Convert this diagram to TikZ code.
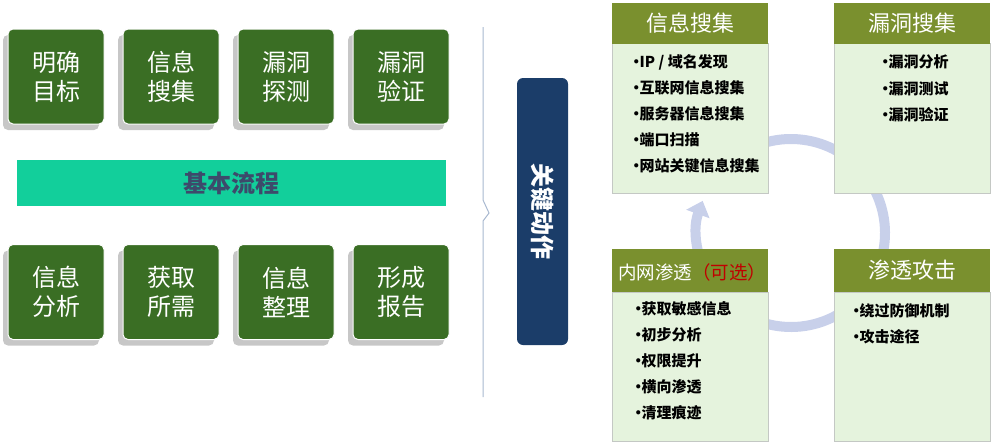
\documentclass[tikz,border=0pt]{standalone}
\usepackage{fontspec}
\setmainfont{Noto Sans CJK SC}
\usetikzlibrary{arrows.meta,shadows}
\definecolor{boxgreen}{HTML}{3A6E24}
\definecolor{bargreen}{HTML}{12CF9B}
\definecolor{bartext}{HTML}{3D4A6B}
\definecolor{keyblue}{HTML}{1B3D69}
\definecolor{headolive}{HTML}{7A902E}
\definecolor{bodygreen}{HTML}{E5F3DD}
\definecolor{bodyline}{HTML}{C4C8C4}
\definecolor{ringblue}{HTML}{C8D0EA}
\definecolor{bracketline}{HTML}{A8B8D0}
\definecolor{optred}{HTML}{C00000}
\newcommand{\bul}{\makebox[6.5pt][c]{•}}
\tikzset{
  gbox/.style={fill=boxgreen, draw=white, line width=1pt, rounded corners=5pt,
    minimum width=96pt, minimum height=95pt, text=white, align=center,
    font=\fontsize{24}{29}\selectfont,
    drop shadow={shadow xshift=-5pt, shadow yshift=-6pt, fill=black!22, opacity=1}},
  head/.style={fill=headolive, draw=none, minimum width=156pt, minimum height=41pt,
    inner sep=0pt, text=white, font=\fontsize{22}{26}\selectfont},
  body/.style={fill=bodygreen, draw=bodyline, line width=0.8pt, minimum width=156pt, inner sep=0pt},
  item/.style={anchor=west, inner sep=0pt, font=\fontsize{15}{18}\selectfont\bfseries, text=black}
}
\begin{document}
\begin{tikzpicture}[x=1pt,y=-1pt]
\useasboundingbox (0,0) rectangle (1000,442);
% left boxes
\node[gbox] (b1) at (56,76.5) {明确\\目标};
\node[gbox] (b2) at (171,76.5) {信息\\搜集};
\node[gbox] (b3) at (286,76.5) {漏洞\\探测};
\node[gbox] (b4) at (401,76.5) {漏洞\\验证};
\node[gbox] (b5) at (56,292) {信息\\分析};
\node[gbox] (b6) at (171,292) {获取\\所需};
\node[gbox] (b7) at (286,292) {信息\\整理};
\node[gbox] (b8) at (401,292) {形成\\报告};
% bar
\node[fill=bargreen, minimum width=429pt, minimum height=46pt, inner sep=0pt,
  text=bartext, font=\fontsize{24}{28}\selectfont\bfseries] (bar) at (231.5,183) {基本流程};
% bracket
\coordinate (brtop) at (483,27);
\coordinate (brbot) at (483,397);
\coordinate (brtip) at (489,213);
\draw[bracketline, line width=1pt] (brtop) -- (483,200) -- (brtip) -- (483,221) -- (brbot);
% key box
\node[fill=keyblue, rounded corners=6pt, minimum width=51pt, minimum height=267pt, inner sep=0pt] (key) at (542.5,211.5) {};
\node[rotate=-90, text=white, font=\fontsize{24}{26}\selectfont\bfseries] (keytext) at (key.center) {关键动作};
% ring
\coordinate (rc) at (791,233);
\draw[ringblue, line width=10pt, -{Triangle[width=24pt,length=14pt]}]
  (rc) ++(130:94pt) arc[start angle=130, end angle=-200, radius=94pt];
% panel 1
\node[body, minimum height=150pt] (p1b) at (690,118) {};
\node[head] (p1h) at (690,23) {信息搜集};
\node[item] (p1i1) at (633,62) {\bul IP / 域名发现};
\node[item] (p1i2) at (633,88) {\bul 互联网信息搜集};
\node[item] (p1i3) at (633,114) {\bul 服务器信息搜集};
\node[item] (p1i4) at (633,140) {\bul 端口扫描};
\node[item] (p1i5) at (633,166) {\bul 网站关键信息搜集};
% panel 2
\node[body, minimum height=150pt] (p2b) at (912,118) {};
\node[head] (p2h) at (912,23) {漏洞搜集};
\node[item] (p2i1) at (882,62) {\bul 漏洞分析};
\node[item] (p2i2) at (882,89) {\bul 漏洞测试};
\node[item] (p2i3) at (882,115) {\bul 漏洞验证};
% panel 3
\node[body, minimum height=149pt] (p3b) at (690,366.5) {};
\node[head, minimum height=43pt] (p3h) at (690,270.5) {};
\node[anchor=west, inner sep=0pt, text=white, font=\fontsize{18.5}{22}\selectfont] (p3t) at (618,272) {内网渗透\textcolor{optred}{（可选）}};
\node[item] (p3i1) at (635,309) {\bul 获取敏感信息};
\node[item] (p3i2) at (635,335) {\bul 初步分析};
\node[item] (p3i3) at (635,361) {\bul 权限提升};
\node[item] (p3i4) at (635,387) {\bul 横向渗透};
\node[item] (p3i5) at (635,413) {\bul 清理痕迹};
% panel 4
\node[body, minimum height=149pt] (p4b) at (912,366.5) {};
\node[head, minimum height=43pt] (p4h) at (912,270.5) {渗透攻击};
\node[item] (p4i1) at (853,311) {\bul 绕过防御机制};
\node[item] (p4i2) at (853,337) {\bul 攻击途径};
\end{tikzpicture}
\end{document}
